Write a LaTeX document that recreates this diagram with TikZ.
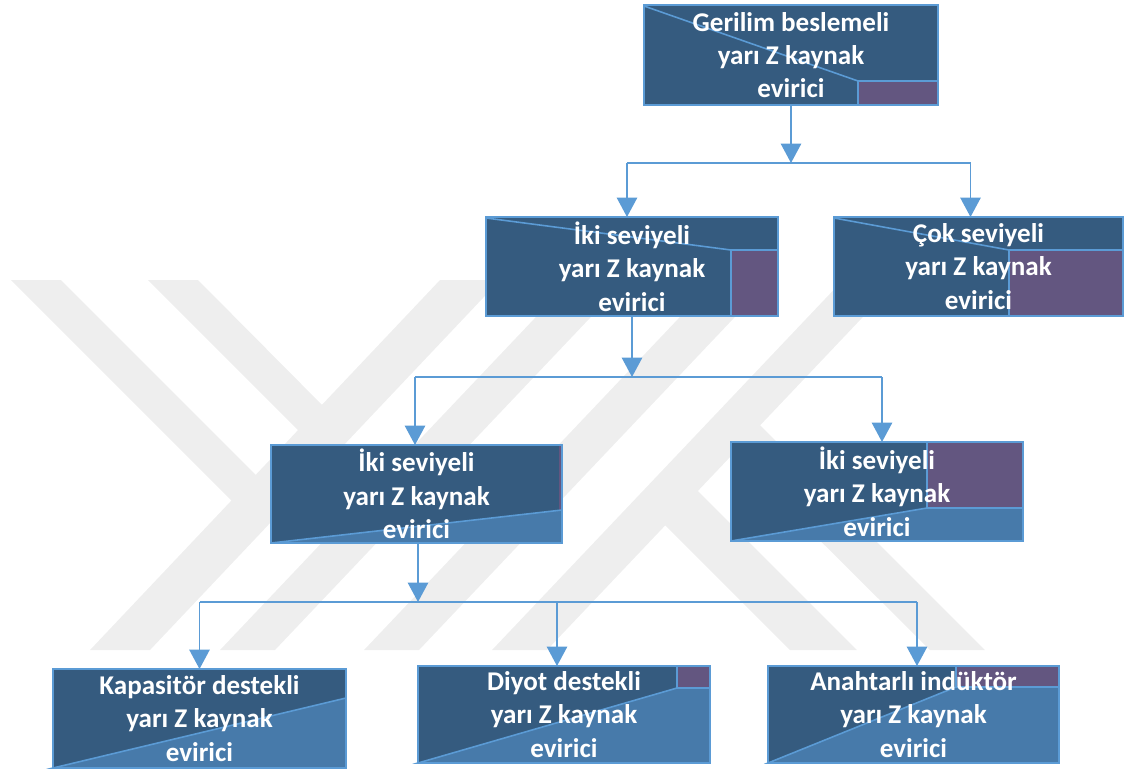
\documentclass[tikz,border=0pt]{standalone}
\usepackage{fontspec}
\setmainfont{Carlito}
\usetikzlibrary{arrows.meta,calc}

\definecolor{boxdark}{RGB}{53,91,127}
\definecolor{boxlight}{RGB}{71,122,170}
\definecolor{boxpurple}{RGB}{99,86,128}
\definecolor{edgeblue}{RGB}{91,155,213}
\definecolor{markgrey}{RGB}{238,238,238}

\pgfdeclarelayer{watermark}
\pgfdeclarelayer{background}
\pgfsetlayers{watermark,background,main}

\tikzset{
  px/.style={x=0.02cm,y=-0.02cm},
  boxsize/.style 2 args={minimum width=#1*0.02cm, minimum height=#2*0.02cm},
  stagebox/.style={draw=edgeblue, line width=1.1pt,
    inner sep=0pt, outer sep=0pt, text=white, align=center,
    font=\bfseries\fontsize{15.4}{19}\selectfont},
  patch/.style={draw=edgeblue, line width=0.9pt},
  link/.style={draw=edgeblue, line width=1.1pt},
  arrowlink/.style={link, -{Triangle[width=11.5pt,length=11pt]}},
  band/.style={fill=markgrey},
}

\begin{document}
\begin{tikzpicture}[px]
\useasboundingbox (0,0) rectangle (1129,772);

% faint logo behind the chart: rising bands and short falling bands
\begin{pgfonlayer}{watermark}
  \fill[band] (440,280) -- (500,280) -- (150,650) -- (90,650) -- cycle;
  \fill[band] (571,280) -- (626,280) -- (275,650) -- (220,650) -- cycle;
  \fill[band] (715,280) -- (770,280) -- (419,650) -- (364,650) -- cycle;
  \fill[band] (843,280) -- (898,280) -- (547,650) -- (492,650) -- cycle;
  \fill[band] (11,280) -- (61,280) -- (271,490) -- (246,515) -- cycle;
  \fill[band] (148,280) -- (198,280) -- (337,420) -- (313,445) -- cycle;
  \fill[band] (651,511) -- (684,477) -- (857,650) -- (790,650) -- cycle;
  \fill[band] (719,440) -- (746,411) -- (985,650) -- (930,650) -- cycle;
\end{pgfonlayer}

% boxes: outline and text on the main layer
\node[stagebox, boxsize={294}{100}] (b1) at (791,55) {Gerilim beslemeli\\yarı Z kaynak\\evirici};
\node[stagebox, boxsize={292}{99}] (b2) at (632,266.5) {İki seviyeli\\yarı Z kaynak\\evirici};
\node[stagebox, boxsize={289}{99}] (b3) at (978.5,266.5) {Çok seviyeli\\yarı Z kaynak\\evirici};
\node[stagebox, boxsize={291}{98}] (b4) at (416.5,494) {İki seviyeli\\yarı Z kaynak\\evirici};
\node[stagebox, boxsize={292}{99}] (b5) at (877,491.5) {İki seviyeli\\yarı Z kaynak\\evirici};
\node[stagebox, boxsize={293}{99}] (b6) at (199.5,718.5) {Kapasitör destekli\\yarı Z kaynak\\evirici};
\node[stagebox, boxsize={292}{97}] (b7) at (564,714.5) {Diyot destekli\\yarı Z kaynak\\evirici};
\node[stagebox, boxsize={291}{97}] (b8) at (913.5,714.5) {Anahtarlı indüktör\\yarı Z kaynak\\evirici};

% box fills and coloured segments, below the text
\begin{pgfonlayer}{background}
  \foreach \b in {b1,b2,b3,b4,b5,b6,b7,b8}
    \fill[boxdark] (\b.south west) rectangle (\b.north east);
  % b1
  \draw[patch, fill=boxpurple] (858,81) rectangle (938,105);
  \draw[patch] (644,6) -- (858,81) -- (938,81);
  % b2
  \draw[patch, fill=boxpurple] (731,250) rectangle (778,316);
  \draw[patch] (486,218) -- (731,250) -- (778,250);
  % b3
  \draw[patch, fill=boxpurple] (1009,250) rectangle (1123,316);
  \draw[patch] (834,218) -- (1009,250) -- (1123,250);
  % b4
  \fill[boxpurple] (558.5,445) rectangle (562,510);
  \draw[patch, fill=boxlight] (271,543) -- (562,510) -- (562,543) -- cycle;
  % b5
  \draw[patch, fill=boxpurple] (927,442) rectangle (1023,508);
  \draw[patch, fill=boxlight] (731,541) -- (927,508) -- (1023,508) -- (1023,541) -- cycle;
  % b6
  \draw[patch, fill=boxlight] (53,768) -- (346,698) -- (346,768) -- cycle;
  % b7
  \draw[patch, fill=boxpurple] (677,666) rectangle (710,688);
  \draw[patch, fill=boxlight] (418,763) -- (677,688) -- (710,688) -- (710,763) -- cycle;
  % b8
  \draw[patch, fill=boxpurple] (956,666) rectangle (1059,687);
  \draw[patch, fill=boxlight] (768,763) -- (956,687) -- (1059,687) -- (1059,763) -- cycle;
\end{pgfonlayer}

% branching points and drop points
\coordinate (j1) at ($(b1.south)+(0,58)$);
\coordinate (d2) at ($(b2.north |- j1)+(-5,0)$);
\coordinate (d3) at ($(b3.north |- j1)+(-8,0)$);
\coordinate (j2) at ($(b2.south)+(0,61)$);
\coordinate (d4) at ($(b4.north |- j2)+(-1.5,0)$);
\coordinate (d5) at ($(b5.north |- j2)+(5,0)$);
\coordinate (j3) at ($(b4.south)+(1.5,59)$);
\coordinate (d6) at (b6.north |- j3);
\coordinate (d7) at ($(b7.north |- j3)+(-7,0)$);
\coordinate (d8) at ($(b8.north |- j3)+(3.5,0)$);

% connectors
\draw[arrowlink] (b1.south) -- (j1);
\draw[link] (d2) -- (d3);
\draw[arrowlink] (d2) -- (d2 |- b2.north);
\draw[arrowlink] (d3) -- (d3 |- b3.north);

\draw[arrowlink] (b2.south) -- (j2);
\draw[link] (d4) -- (d5);
\draw[arrowlink] (d4) -- (d4 |- b4.north);
\draw[arrowlink] (d5) -- (d5 |- b5.north);

\draw[arrowlink] (b4.south -| j3) -- (j3);
\draw[link] (d6) -- (d8);
\draw[arrowlink] (d6) -- (b6.north);
\draw[arrowlink] (d7) -- (d7 |- b7.north);
\draw[arrowlink] (d8) -- (d8 |- b8.north);
\end{tikzpicture}
\end{document}
